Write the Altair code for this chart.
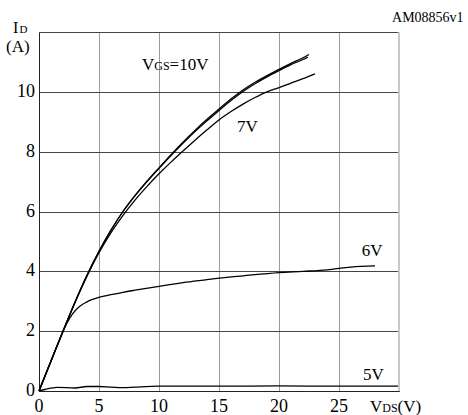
import altair as alt
import pandas as pd

# ---- data ----
vds_10 = [0, 1, 2, 3, 4, 5, 6, 7, 8, 9, 10, 11, 12, 13, 14, 15, 16, 17, 18, 19, 20, 21, 22, 22.5]
id_10 = [0, 1.0, 2.0, 2.97, 3.87, 4.67, 5.38, 6.0, 6.53, 7.01, 7.46, 7.9, 8.32, 8.71, 9.08, 9.43, 9.76, 10.06, 10.32, 10.54, 10.75, 10.95, 11.14, 11.25]

vds_9 = [0, 1, 2, 3, 4, 5, 6, 7, 8, 9, 10, 11, 12, 13, 14, 15, 16, 17, 18, 19, 20, 21, 22, 22.4]
id_9 = [0, 1.0, 2.0, 2.97, 3.87, 4.67, 5.38, 6.0, 6.53, 7.0, 7.44, 7.87, 8.28, 8.67, 9.03, 9.38, 9.71, 10.01, 10.27, 10.5, 10.71, 10.91, 11.08, 11.16]

vds_7 = [0, 1, 2, 3, 4, 5, 6, 7, 8, 9, 10, 11, 12, 13, 14, 15, 16, 17, 18, 19, 20, 21, 22, 23]
id_7 = [0, 1.0, 2.0, 2.96, 3.84, 4.62, 5.29, 5.87, 6.38, 6.84, 7.26, 7.65, 8.02, 8.38, 8.73, 9.06, 9.34, 9.59, 9.81, 10.0, 10.14, 10.29, 10.44, 10.6]

vds_6 = [0, 1, 1.8, 2.3, 2.8, 3.3, 4, 5, 6, 7, 8, 10, 12, 14, 15, 17, 20, 22, 24, 25, 26, 28]
id_6 = [0, 1.0, 1.8, 2.25, 2.58, 2.8, 2.98, 3.13, 3.22, 3.3, 3.37, 3.5, 3.62, 3.72, 3.77, 3.85, 3.96, 4.0, 4.05, 4.1, 4.14, 4.18]

vds_5 = [0, 0.5, 1.5, 3, 4, 5, 6, 7, 8, 10, 15, 20, 25, 30]
id_5 = [0, 0.05, 0.12, 0.1, 0.15, 0.15, 0.13, 0.11, 0.13, 0.16, 0.16, 0.17, 0.16, 0.16]

x_ticks = [0, 5, 10, 15, 20, 25, 30]
y_ticks = [0, 2, 4, 6, 8, 10, 12]
x_labels = ["0", "5", "10", "15", "20", "25"]
x_label_vals = [0, 5, 10, 15, 20, 25]
y_labels = ["0", "2", "4", "6", "8", "10"]
y_label_vals = [0, 2, 4, 6, 8, 10]

# annotation pieces: text, x (V), y (A) at left/baseline, font size
ann_text = ["AM08856v1", "I", "D", "(A)", "V", "GS", "=10V", "7V", "6V", "5V", "V", "DS", "(V)"]
ann_x = [29.42, -2.17, -1.62, -2.75, 8.58, 9.61, 10.88, 16.5, 26.9, 27.0, 27.58, 28.61, 29.88]
ann_y = [12.34, 11.97, 11.97, 11.34, 10.74, 10.74, 10.74, 8.66, 4.5, 0.37, -0.70, -0.70, -0.70]
ann_fs = [14, 16, 11, 17, 17, 12, 17, 17, 17, 17, 17, 12, 17]

FONT = "Liberation Serif"

rows = []
for name, xs, ys in [("10V", vds_10, id_10), ("9V", vds_9, id_9), ("7V", vds_7, id_7),
                     ("6V", vds_6, id_6), ("5V", vds_5, id_5)]:
    for i, (a, b) in enumerate(zip(xs, ys)):
        rows.append({"curve": name, "vds": a, "id": b, "order": i})
df = pd.DataFrame(rows)
ann = pd.DataFrame({"text": ann_text, "x": ann_x, "y": ann_y, "fs": ann_fs})
xl = pd.DataFrame({"v": x_label_vals, "t": x_labels})
yl = pd.DataFrame({"v": y_label_vals, "t": y_labels})

xscale = alt.Scale(domain=[0, 30], nice=False, zero=False)
yscale = alt.Scale(domain=[0, 12], nice=False, zero=False)

lines = alt.Chart(df).mark_line(color="black", strokeWidth=1.3, interpolate="monotone").encode(
    x=alt.X("vds:Q", scale=xscale,
            axis=alt.Axis(values=x_ticks, title=None, grid=True, gridColor="#9a9a9a", gridWidth=1,
                          domainColor="#222", ticks=False, labels=False)),
    y=alt.Y("id:Q", scale=yscale,
            axis=alt.Axis(values=y_ticks, title=None, grid=True, gridColor="#444", gridWidth=1,
                          domainColor="#222", ticks=False, labels=False)),
    detail="curve:N",
    order="order:Q",
)

right_border = alt.Chart(pd.DataFrame({"x": [30]})).mark_rule(color="#c8c8c8", strokeWidth=2).encode(
    x=alt.X("x:Q", scale=xscale)
)

xlab = alt.Chart(xl).mark_text(font=FONT, fontSize=18, align="center", baseline="alphabetic",
                               color="black").encode(
    x=alt.X("v:Q", scale=xscale), y=alt.value(380), text="t:N")

ylab = alt.Chart(yl).mark_text(font=FONT, fontSize=18, align="right", baseline="middle",
                               color="black").encode(
    x=alt.value(-4), y=alt.Y("v:Q", scale=yscale), text="t:N")

texts = alt.Chart(ann).mark_text(font=FONT, align="left", baseline="alphabetic", color="black").encode(
    x=alt.X("x:Q", scale=xscale),
    y=alt.Y("y:Q", scale=yscale),
    text="text:N",
    size=alt.Size("fs:Q", scale=None, legend=None),
)

chart = alt.layer(lines, right_border, xlab, ylab, texts).properties(
    width=360, height=359,
    autosize=alt.AutoSizeParams(type="none"),
    padding={"left": 39, "top": 32, "right": 69, "bottom": 24},
).configure_view(stroke=None).configure(background="white", font=FONT)

chart.save("out.html", embed_options={"renderer": "svg", "actions": False})
